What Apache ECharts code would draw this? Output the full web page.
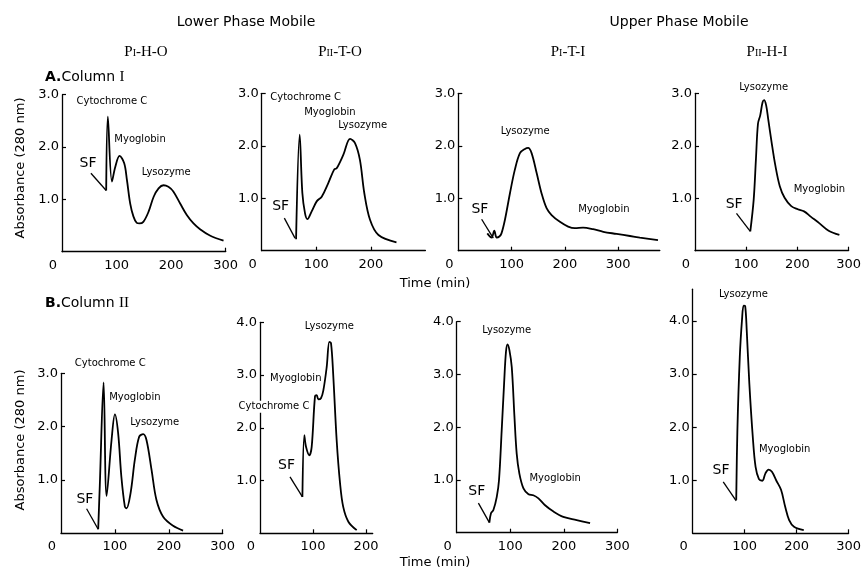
<!DOCTYPE html>
<html><head><meta charset="utf-8">
<script src="https://cdn.jsdelivr.net/npm/echarts@6/dist/echarts.min.js"></script>
<style>html,body{margin:0;padding:0;background:#fff}#c{width:864px;height:573px}</style>
</head><body><div id="c"></div>
<script>
// ---- Data: time (min) and absorbance (280 nm) ----
const a1Time = [81, 84, 91.5, 97.6, 105.5, 114, 119, 125, 131, 137, 142, 149, 158.5, 168, 177, 186, 195, 204, 216.5, 228.7, 241, 253, 271, 296];
const a1Abs  = [1.17, 2.58, 1.34, 1.62, 1.83, 1.69, 1.37, 0.92, 0.67, 0.55, 0.54, 0.57, 0.76, 1.05, 1.21, 1.27, 1.24, 1.15, 0.92, 0.70, 0.54, 0.43, 0.31, 0.21];
const a2Time = [63, 69.6, 74.5, 79.4, 83.7, 91.6, 100.8, 110, 122, 133, 137.4, 149.7, 162, 171, 180, 188, 198.5, 214, 247];
const a2Abs  = [0.22, 2.21, 1.10, 0.71, 0.60, 0.75, 0.94, 1.03, 1.29, 1.55, 1.57, 1.83, 2.13, 2.05, 1.73, 1.10, 0.59, 0.30, 0.16];
const a3Time = [54.4, 62.5, 67.5, 72, 77, 81, 87.5, 97, 106, 115.6, 125, 131, 137.5, 147, 156, 165.6, 175, 190.6, 206, 218.8, 234, 253, 272, 297, 322, 340.6, 374.6];
const a3Abs  = [0.33, 0.25, 0.38, 0.25, 0.27, 0.33, 0.59, 1.10, 1.54, 1.86, 1.94, 1.96, 1.86, 1.48, 1.10, 0.81, 0.68, 0.55, 0.46, 0.43, 0.44, 0.41, 0.36, 0.32, 0.28, 0.25, 0.20];
const a4Time = [108, 114.6, 119, 123, 127.4, 132, 135, 139, 143, 149.7, 157, 165.6, 175, 188, 200.6, 213, 226, 242, 261, 282];
const a4Abs  = [0.37, 0.97, 1.74, 2.42, 2.58, 2.83, 2.87, 2.77, 2.51, 2.06, 1.62, 1.23, 1.01, 0.85, 0.79, 0.75, 0.65, 0.53, 0.38, 0.30];
const b1Time = [69, 72, 79, 84.6, 93.8, 100, 106, 112, 118.5, 121.6, 129, 137, 145, 152.5, 158.6, 168, 177, 189.5, 208, 226.5];
const b1Abs  = [0.075, 0.9, 2.83, 0.70, 1.75, 2.23, 1.88, 1.06, 0.50, 0.47, 0.75, 1.38, 1.81, 1.86, 1.75, 1.19, 0.63, 0.31, 0.14, 0.05];
const b2Time = [80, 83.6, 86.8, 93, 97.5, 103.8, 107, 110, 115, 119.5, 125.8, 130.8, 134, 138, 144.6, 151, 157, 166.7, 182.4];
const b2Abs  = [0.69, 1.86, 1.64, 1.48, 1.64, 2.60, 2.62, 2.54, 2.56, 2.71, 3.15, 3.63, 3.60, 3.03, 1.77, 0.95, 0.50, 0.22, 0.06];
const b3Time = [61, 64, 68.5, 74.8, 79, 84, 88.5, 92, 95, 98.4, 102.8, 107.8, 112, 117, 124.6, 134, 143, 152.6, 165, 180.7, 199, 224, 249];
const b3Abs  = [0.19, 0.37, 0.43, 0.68, 1.00, 1.94, 2.83, 3.43, 3.57, 3.46, 3.14, 2.20, 1.50, 1.12, 0.84, 0.73, 0.71, 0.65, 0.52, 0.40, 0.30, 0.24, 0.18];
const b4Time = [83.75, 86, 90.6, 95, 98, 101, 104, 109, 115.6, 121, 127.5, 134, 140, 146, 152.5, 160.6, 170, 178, 185.6, 195, 213.75];
const b4Abs  = [0.63, 1.94, 3.32, 4.04, 4.29, 4.28, 3.82, 2.82, 1.82, 1.25, 1.02, 0.99, 1.13, 1.20, 1.16, 1.00, 0.82, 0.50, 0.25, 0.125, 0.06];

const xTickLabels4 = [0, 100, 200, 300];
const xTickLabels3 = [0, 100, 200];
const yTickLabels3 = [1, 2, 3];
const yTickLabels4 = [1, 2, 3, 4];

const headerTexts = ['Lower Phase Mobile', 'Upper Phase Mobile'];
const rowTitles = ['A.', 'Column I', 'B.', 'Column II'];
const yAxisTitle = 'Absorbance (280 nm)';
const xAxisTitle = 'Time (min)';

// ---- Layout ----
const panels = [
  {t:a1Time, a:a1Abs, box:[62, 94.7, 163.7, 157], xMax:300, yMax:3, xl:xTickLabels4, xt:[300], yl:yTickLabels3,
   arrow:[[53,1.50],[81,1.17]], sf:[47.6,1.69],
   notes:[['Cytochrome C',91.5,2.87],['Myoglobin',143,2.15],['Lysozyme',191,1.51]]},
  {t:a2Time, a:a2Abs, box:[261.7, 93.3, 163.7, 157.4], xMax:300, yMax:3, xl:xTickLabels3, xt:[100,200], yl:yTickLabels3,
   arrow:[[41.5,0.62],[61,0.24]], sf:[34.8,0.84],
   notes:[['Cytochrome C',80.6,2.92],['Myoglobin',125,2.64],['Lysozyme',185,2.39]]},
  {t:a3Time, a:a3Abs, box:[458.3, 93.3, 201.5, 157.4], xMax:378, yMax:3, xl:xTickLabels4, xt:[100,200,300], yl:yTickLabels3,
   arrow:[[43.75,0.60],[65.6,0.24]], sf:[40.6,0.78],
   notes:[['Lysozyme',125.6,2.27],['Myoglobin',273,0.79]]},
  {t:a4Time, a:a4Abs, box:[695, 93.3, 157, 157.4], xMax:300, yMax:3, xl:xTickLabels4, xt:[100,200,300], yl:yTickLabels3,
   arrow:[[81,0.71],[108,0.37]], sf:[76.4,0.88],
   notes:[['Lysozyme',134,3.12],['Myoglobin',243,1.17]]},
  {t:b1Time, a:b1Abs, box:[61, 373.3, 161.7, 160], xMax:300, yMax:3, xl:xTickLabels4, xt:[100,200,300], yl:yTickLabels3,
   arrow:[[47.5,0.46],[69,0.075]], sf:[44.4,0.63],
   notes:[['Cytochrome C',91.4,3.18],['Myoglobin',137,2.55],['Lysozyme',174,2.08]]},
  {t:b2Time, a:b2Abs, box:[260, 322.3, 112.7, 211], xMax:212.6, yMax:4, xl:xTickLabels3, xt:[100,200], yl:yTickLabels4,
   arrow:[[56.6,1.07],[80,0.69]], sf:[50,1.29],
   notes:[['Lysozyme',130.8,3.93],['Myoglobin',67.5,2.93],['Cytochrome C',26.4,2.40]]},
  {t:b3Time, a:b3Abs, box:[456.7, 321.7, 160.7, 211], xMax:300, yMax:4, xl:xTickLabels4, xt:[100,200,300], yl:yTickLabels4,
   arrow:[[40.5,0.56],[61,0.19]], sf:[37.4,0.78],
   notes:[['Lysozyme',93.5,3.84],['Myoglobin',183.8,1.03]]},
  {t:b4Time, a:b4Abs, box:[692.7, 289.2, 158, 244.1], xMax:300, yMax:4.6, xl:xTickLabels4, xt:[100,200,300], yl:yTickLabels4,
   arrow:[[58.75,0.97],[83.75,0.61]], sf:[54.4,1.19],
   notes:[['Lysozyme',97.5,4.50],['Myoglobin',177,1.58]]}
];

const SANS = 'DejaVu Sans';
const chart = echarts.init(document.getElementById('c'), null, {renderer:'canvas'});
const grid = [], xAxis = [], yAxis = [], series = [];
panels.forEach((p, i) => {
  grid.push({left:p.box[0], top:p.box[1], width:p.box[2], height:p.box[3]});
  xAxis.push({type:'value', gridIndex:i, min:0, max:p.xMax,
    axisLine:{show:true, onZero:false, lineStyle:{color:'#000', width:1.3}},
    axisTick:{show:true, inside:true, length:4, customValues:p.xt, lineStyle:{color:'#000', width:1.2}},
    axisLabel:{customValues:p.xl, color:'#000', fontSize:13, fontFamily:SANS, margin:7,
      formatter: v => v === 0 ? '{z|0}' : String(v),
      rich:{z:{padding:[0,18,0,0], fontSize:13, fontFamily:SANS, color:'#000'}}},
    splitLine:{show:false}});
  yAxis.push({type:'value', gridIndex:i, min:0, max:p.yMax,
    axisLine:{show:true, onZero:false, lineStyle:{color:'#000', width:1.3}},
    axisTick:{show:true, inside:true, length:4, customValues:p.yl, lineStyle:{color:'#000', width:1.2}},
    axisLabel:{customValues:p.yl, color:'#000', fontSize:13, fontFamily:SANS, margin:3,
      formatter: v => v.toFixed(1)},
    splitLine:{show:false}});
  series.push({type:'line', xAxisIndex:i, yAxisIndex:i, showSymbol:false, smooth:0.35,
    clip:false, silent:true,
    data:p.t.map((t, k) => [t, p.a[k]]),
    lineStyle:{color:'#000', width:1.8},
    markLine:{silent:true, symbol:['none','arrow'], symbolSize:[0,8], label:{show:false},
      lineStyle:{color:'#000', width:1.3, type:'solid'},
      data:[[{coord:p.arrow[0]}, {coord:p.arrow[1]}]]}});
});

chart.setOption({animation:false, grid, xAxis, yAxis, series});

const g = [];
g.push({type:'text', x:246, y:22, style:{text:headerTexts[0], font:'14px "DejaVu Sans"', fill:'#000', align:'center', verticalAlign:'middle'}});
g.push({type:'text', x:679, y:22, style:{text:headerTexts[1], font:'14px "DejaVu Sans"', fill:'#000', align:'center', verticalAlign:'middle'}});
const pLabels = [['I','-H-O',146],['II','-T-O',340],['I','-T-I',568],['II','-H-I',767]];
pLabels.forEach(l => {
  g.push({type:'text', x:l[2], y:52, style:{
    text:'{p|P}{s|' + l[0] + '}{p|' + l[1] + '}', align:'center', verticalAlign:'middle',
    rich:{p:{fontFamily:'Liberation Serif', fontSize:15, fill:'#000', lineHeight:16},
          s:{fontFamily:'Liberation Serif', fontSize:10, fill:'#000', lineHeight:16, padding:[3,0,0,0]}}}});
});
[[rowTitles[0], rowTitles[1], 77], [rowTitles[2], rowTitles[3], 303]].forEach(r => {
  const parts = r[1].split(' ');
  g.push({type:'text', x:45, y:r[2], style:{
    text:'{a|' + r[0] + '}{b|' + parts[0] + ' }{c|' + parts[1] + '}', align:'left', verticalAlign:'middle',
    rich:{a:{fontFamily:SANS, fontWeight:'bold', fontSize:14, fill:'#000'},
          b:{fontFamily:SANS, fontSize:14, fill:'#000'},
          c:{fontFamily:'Liberation Serif', fontSize:15, fill:'#000'}}}});
});
[[21,168],[21,440]].forEach(pt => {
  g.push({type:'text', x:pt[0], y:pt[1], rotation:Math.PI/2, style:{text:yAxisTitle, font:'13px "DejaVu Sans"', fill:'#000', align:'center', verticalAlign:'middle'}});
});
[[435,284],[435,563]].forEach(pt => {
  g.push({type:'text', x:pt[0], y:pt[1], style:{text:xAxisTitle, font:'13px "DejaVu Sans"', fill:'#000', align:'center', verticalAlign:'middle'}});
});
panels.forEach((p, i) => {
  p.notes.forEach(n => {
    const px = chart.convertToPixel({gridIndex:i}, [n[1], n[2]]);
    g.push({type:'text', x:px[0], y:px[1], z:100, style:{text:n[0], font:'10px "DejaVu Sans"', fill:'#000',
      align:'center', verticalAlign:'middle', backgroundColor:'#fff', padding:[1,1]}});
  });
  const s = chart.convertToPixel({gridIndex:i}, p.sf);
  g.push({type:'text', x:s[0], y:s[1], z:100, style:{text:'SF', font:'14px "DejaVu Sans"', fill:'#000', align:'center', verticalAlign:'middle'}});
});
chart.setOption({graphic:g});
</script></body></html>
